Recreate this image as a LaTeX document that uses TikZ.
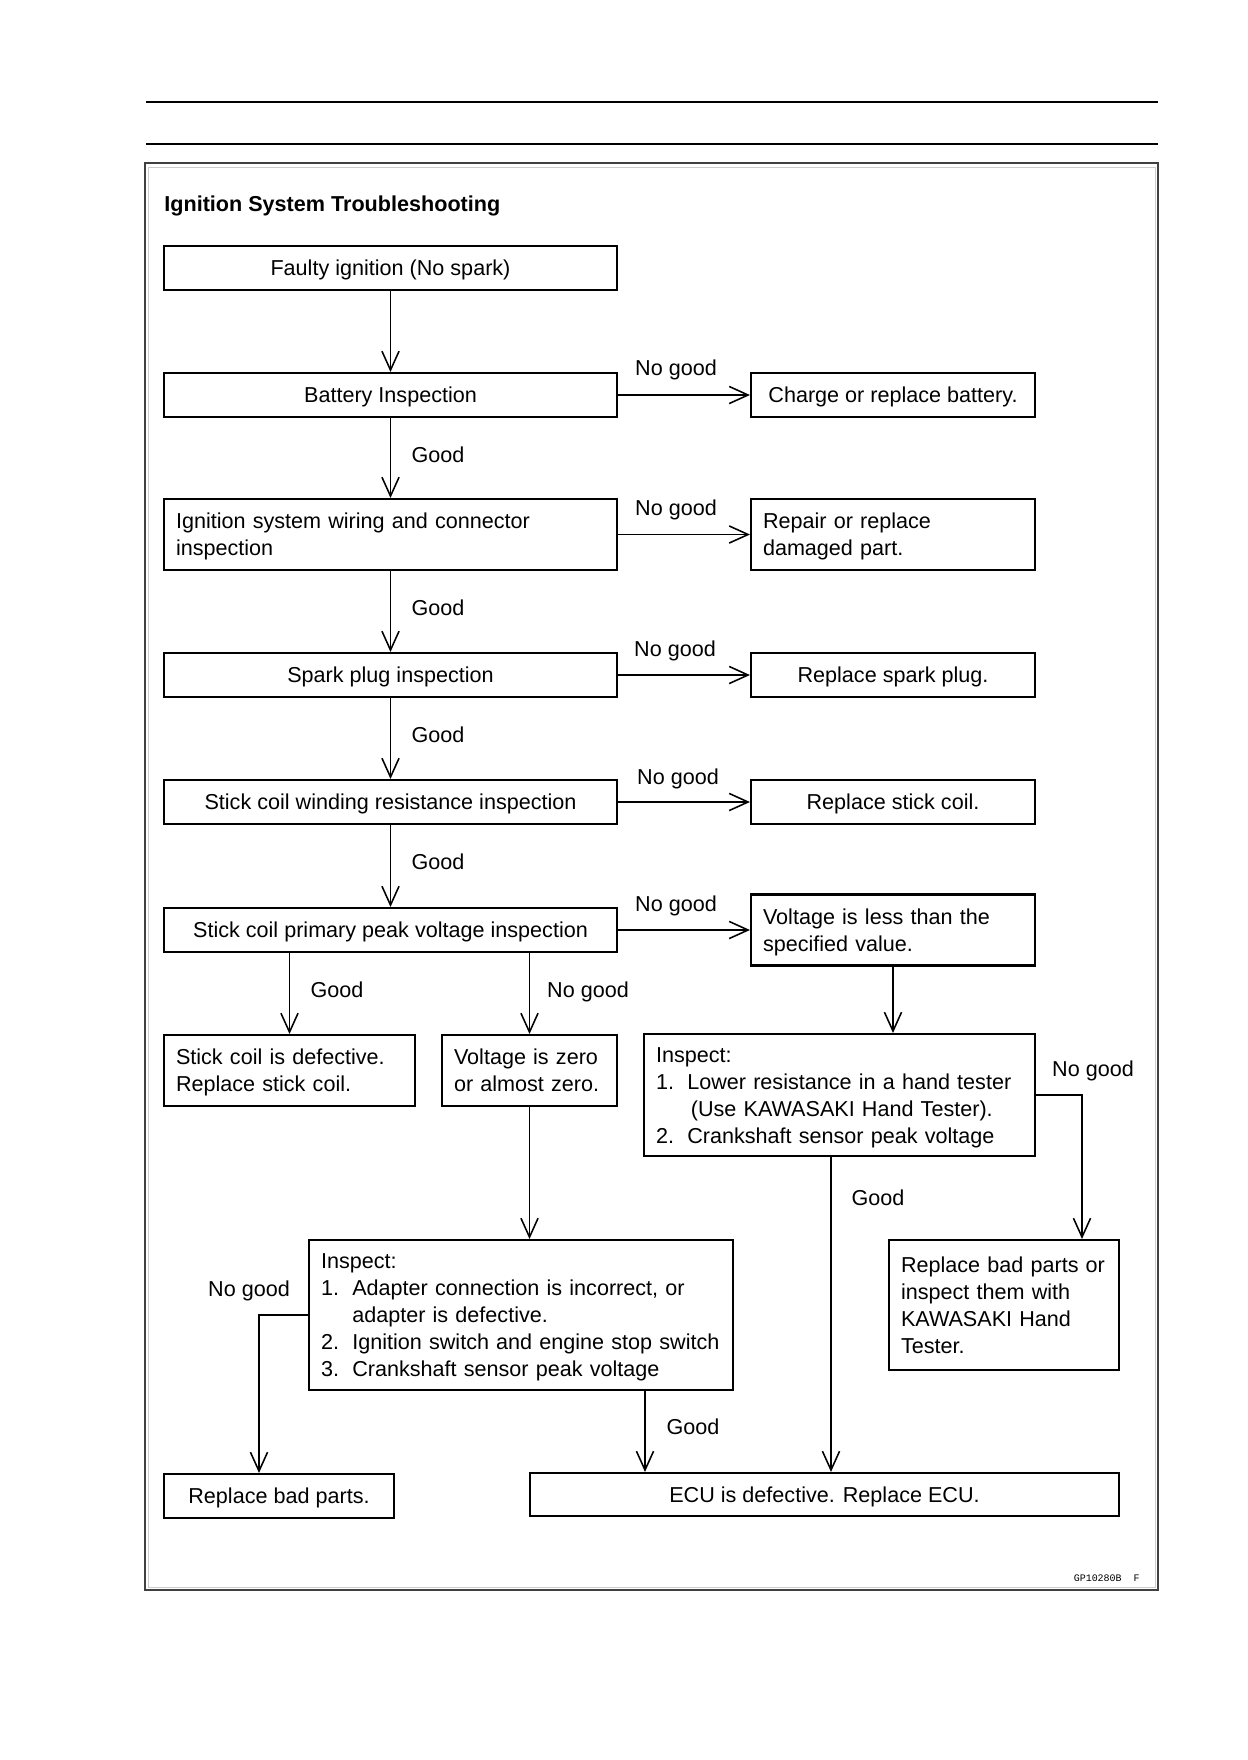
\documentclass[tikz,border=0pt]{standalone}
\usepackage{fontspec}
\setmainfont{Liberation Sans}
\newfontfamily\gpfont{Liberation Mono}
\usetikzlibrary{arrows.meta}

\newcommand\boxfont{\fontsize{10.4}{13}\selectfont}
\newcommand\itemnum[1]{\makebox[5.3mm][l]{#1}}
\def\pxu{0.16933mm}

\tikzset{
  caixa/.style={draw, line width=1pt, inner sep=0pt, font=\boxfont},
  cbox/.style 2 args={caixa, minimum width=#1*\pxu, minimum height=#2*\pxu, text depth=0pt},
  lbox/.style 2 args={caixa, minimum width=#1*\pxu, minimum height=#2*\pxu, align=left,
    /utils/exec={\pgfmathsetlengthmacro\tw{(#1-24)*\pxu}}, text width=\tw,
    execute at begin node={\rule{0pt}{9.8pt}},
    execute at end node={\rule[-2.2pt]{0pt}{2.2pt}}},
  lbl/.style={font=\boxfont, inner sep=0pt, text depth=0pt},
  seta/.style={line width=0.75pt, -{Straight Barb[length=3.2mm,width=2.9mm]}},
}

\begin{document}
\begin{tikzpicture}[x=0.16933mm, y=-0.16933mm]
    \fill[white] (0,0) rectangle (1247,1760);
    \useasboundingbox (0,0) rectangle (1247,1760);

    % linhas do topo da pagina
    \draw[line width=0.6pt] (146,102) -- (1158,102);
    \draw[line width=0.6pt] (146,144) -- (1158,144);

    % moldura
    \draw[line width=0.9pt, black!75] (145,163) rectangle (1158,1590);
    \draw[line width=0.4pt, black!20] (148,167) rectangle (1155,1587);

    \node[font=\bfseries\boxfont, inner sep=0pt, anchor=base west] (title) at (164,211) {Ignition System Troubleshooting};

    % coluna principal
    \node[cbox={453}{44}] (faulty)  at (390.5,268) {Faulty ignition (No spark)};
    \node[cbox={453}{44}] (battery) at (390.5,395) {Battery Inspection};
    \node[lbox={453}{71}] (wiring)  at (390.5,534.5) {Ignition system wiring and connector\\inspection};
    \node[cbox={453}{44}] (spark)   at (390.5,675) {Spark plug inspection};
    \node[cbox={453}{44}] (winding) at (390.5,802) {Stick coil winding resistance inspection};
    \node[cbox={453}{44}] (primary) at (390.5,930) {Stick coil primary peak voltage inspection};

    % coluna da direita
    \node[cbox={284}{44}] (charge)  at (893,395) {Charge or replace battery.};
    \node[lbox={284}{71}] (repair)  at (893,534.5) {Repair or replace\\damaged part.};
    \node[cbox={284}{44}] (rspark)  at (893,675) {Replace spark plug.};
    \node[cbox={284}{44}] (rcoil)   at (893,802) {Replace stick coil.};
    \node[lbox={284}{71}] (vless)   at (893,930) {Voltage is less than the\\specified value.};

    % parte de baixo
    \node[lbox={251}{71}] (defect)  at (289.5,1070.5) {Stick coil is defective.\\Replace stick coil.};
    \node[lbox={175}{71}] (vzero)   at (529.5,1070.5) {Voltage is zero\\or almost zero.};
    \node[lbox={391}{122}] (inspA)  at (839.5,1095) {Inspect:\\
        \itemnum{1.}Lower resistance in a hand tester\\
        \itemnum{}\hspace{0.6mm}(Use KAWASAKI Hand Tester).\\
        \itemnum{2.}Crankshaft sensor peak voltage};
    \node[lbox={424}{150}] (inspB)  at (521,1315) {Inspect:\\
        \itemnum{1.}Adapter connection is incorrect, or\\
        \itemnum{}adapter is defective.\\
        \itemnum{2.}Ignition switch and engine stop switch\\
        \itemnum{3.}Crankshaft sensor peak voltage};
    \node[lbox={230}{130}] (rtester) at (1004,1305) {Replace bad parts or\\inspect them with\\KAWASAKI Hand\\Tester.};
    \node[cbox={230}{44}] (rbad)    at (279,1496) {Replace bad parts.};
    \node[cbox={589}{43}] (ecu)     at (824.5,1494.5) {ECU is defective. Replace ECU.};

    % pontos de dobra
    \coordinate (ngR) at (1082,0);
    \coordinate (gR)  at (831,0);
    \coordinate (ngL) at (259,0);
    \coordinate (gL)  at (645,0);

    % setas verticais
    \draw[seta] (faulty)  -- (battery);
    \draw[seta] (battery) -- (wiring);
    \draw[seta] (wiring)  -- (spark);
    \draw[seta] (spark)   -- (winding);
    \draw[seta] (winding) -- (primary);
    \draw[seta] (defect.north |- primary.south) -- (defect.north);
    \draw[seta] (vzero.north |- primary.south) -- (vzero.north);
    \draw[seta] (vless.south) -- (vless.south |- inspA.north);
    \draw[seta] (vzero.south) -- (vzero.south |- inspB.north);
    \draw[seta] (gR |- inspA.south) -- (gR |- ecu.north);
    \draw[seta] (gL |- inspB.south) -- (gL |- ecu.north);

    % setas horizontais
    \draw[seta] (battery.east) -- (charge.west |- battery.east);
    \draw[seta] (wiring.east)  -- (repair.west |- wiring.east);
    \draw[seta] (spark.east)   -- (rspark.west |- spark.east);
    \draw[seta] (winding.east) -- (rcoil.west |- winding.east);
    \draw[seta] (primary.east) -- (vless.west |- primary.east);

    % setas com dobra
    \draw[seta] (inspA.east) -| (ngR |- rtester.north);
    \draw[seta] (inspB.west) -| (ngL |- rbad.north);

    % rotulos
    \node[lbl] (ng1) at (676,368)  {No good};
    \node[lbl] (ng2) at (676,508)  {No good};
    \node[lbl] (ng3) at (675,649)  {No good};
    \node[lbl] (ng4) at (678,777)  {No good};
    \node[lbl] (ng5) at (676,904)  {No good};
    \node[lbl] (ng6) at (588,990)  {No good};
    \node[lbl] (ng7) at (1093,1069) {No good};
    \node[lbl] (ng8) at (249,1289) {No good};
    \node[lbl] (g1) at (438,455)   {Good};
    \node[lbl] (g2) at (438,608)   {Good};
    \node[lbl] (g3) at (438,735)   {Good};
    \node[lbl] (g4) at (438,862)   {Good};
    \node[lbl] (g5) at (337,990)   {Good};
    \node[lbl] (g6) at (878,1198)  {Good};
    \node[lbl] (g7) at (693,1427)  {Good};

    \node[font=\gpfont\fontsize{4.8}{6}\selectfont, inner sep=0pt, anchor=base east] (code) at (1140,1581) {GP10280B\ \ F};
\end{tikzpicture}
\end{document}
